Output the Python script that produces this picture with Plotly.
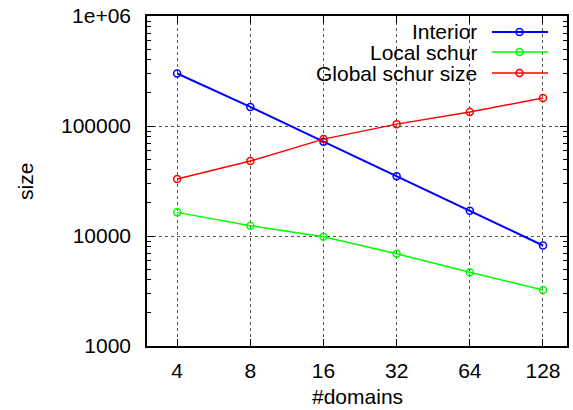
import plotly.graph_objects as go

domains = [4, 8, 16, 32, 64, 128]
interior = [300000, 149000, 72000, 35000, 17000, 8200]
local_schur = [16400, 12400, 9860, 6900, 4680, 3230]
global_schur = [33000, 48000, 76000, 104000, 134000, 180000]

series_names = ["Interior", "Local schur", "Global schur size"]
series_values = [interior, local_schur, global_schur]
series_colors = ["#0000ff", "#00ff00", "#ff0000"]
series_widths = [2, 1.5, 1.5]

y_tickvals = [1000, 10000, 100000, 1000000]
y_ticktext = ["1000", "10000", "100000", "1e+06"]
x_ticktext = ["4", "8", "16", "32", "64", "128"]

FONT = "Liberation Sans, Arial, Helvetica, sans-serif"
FS = 21

fig = go.Figure()
for name, vals, col, w in zip(series_names, series_values, series_colors, series_widths):
    fig.add_trace(go.Scatter(
        x=domains, y=vals, name=name, mode="lines+markers",
        line=dict(color=col, width=w),
        marker=dict(symbol="circle-open", size=7, color=col, line=dict(width=1.5, color=col)),
        showlegend=False,
    ))

# body margin is removed by post_script, so the figure fills the window
W, H = 573, 410
# plot area on screen: x 147..567, y 16..346
ml, mt = 147, 16
mr = W - 567
mb = H - 346
pw, ph = W - ml - mr, H - mt - mb
def px(x):
    return (x - ml) / pw
def py(y):
    return 1 - (y - mt) / ph

# gnuplot-like legend at top right
leg_y = [32, 52, 73]
for name, col, w, yy in zip(series_names, series_colors, series_widths, leg_y):
    fig.add_annotation(x=px(479), y=py(yy), xref="paper", yref="paper", text=name,
                       showarrow=False, xanchor="right", yanchor="middle",
                       font=dict(family=FONT, size=FS, color="#000000"))
    fig.add_shape(type="line", xref="paper", yref="paper", x0=px(492), x1=px(548),
                  y0=py(yy), y1=py(yy), line=dict(color=col, width=w))
    fig.add_shape(type="circle", xref="paper", yref="paper",
                  x0=px(516), x1=px(523), y0=py(yy) - 3.5 / ph, y1=py(yy) + 3.5 / ph,
                  line=dict(color=col, width=1.5))

# axis titles
fig.add_annotation(x=px(357), y=py(396), xref="paper", yref="paper", text="#domains",
                   showarrow=False, xanchor="center", yanchor="middle",
                   font=dict(family=FONT, size=FS, color="#000000"))
fig.add_annotation(x=px(25), y=py(181), xref="paper", yref="paper", text="size",
                   showarrow=False, xanchor="center", yanchor="middle", textangle=-90,
                   font=dict(family=FONT, size=FS, color="#000000"))

axis_common = dict(
    showline=True, linecolor="#000000", linewidth=1.5, mirror="allticks",
    ticks="inside", tickcolor="#000000", ticklen=7, tickwidth=1,
    showgrid=True, gridcolor="#555555", griddash="dot", gridwidth=1,
    zeroline=False, automargin=False, ticklabeloverflow="allow",
    tickfont=dict(family=FONT, size=FS, color="#000000"),
)

fig.update_xaxes(
    type="log", range=[0.478, 2.206],
    tickvals=domains, ticktext=x_ticktext, ticklabelstandoff=5,
    **axis_common,
)
fig.update_yaxes(
    type="log", range=[3, 6],
    tickvals=y_tickvals, ticktext=y_ticktext, ticklabelstandoff=10,
    minor=dict(ticks="inside", ticklen=4, tickcolor="#000000", dtick="D1", showgrid=False),
    **axis_common,
)

fig.update_layout(
    width=W, height=H,
    margin=dict(l=ml, r=mr, t=mt, b=mb, autoexpand=False),
    paper_bgcolor="#ffffff", plot_bgcolor="#ffffff",
    font=dict(family=FONT, size=FS, color="#000000"),
)

fig.write_html("out.html", config={"displayModeBar": False},
               post_script="document.body.style.margin='0';")
